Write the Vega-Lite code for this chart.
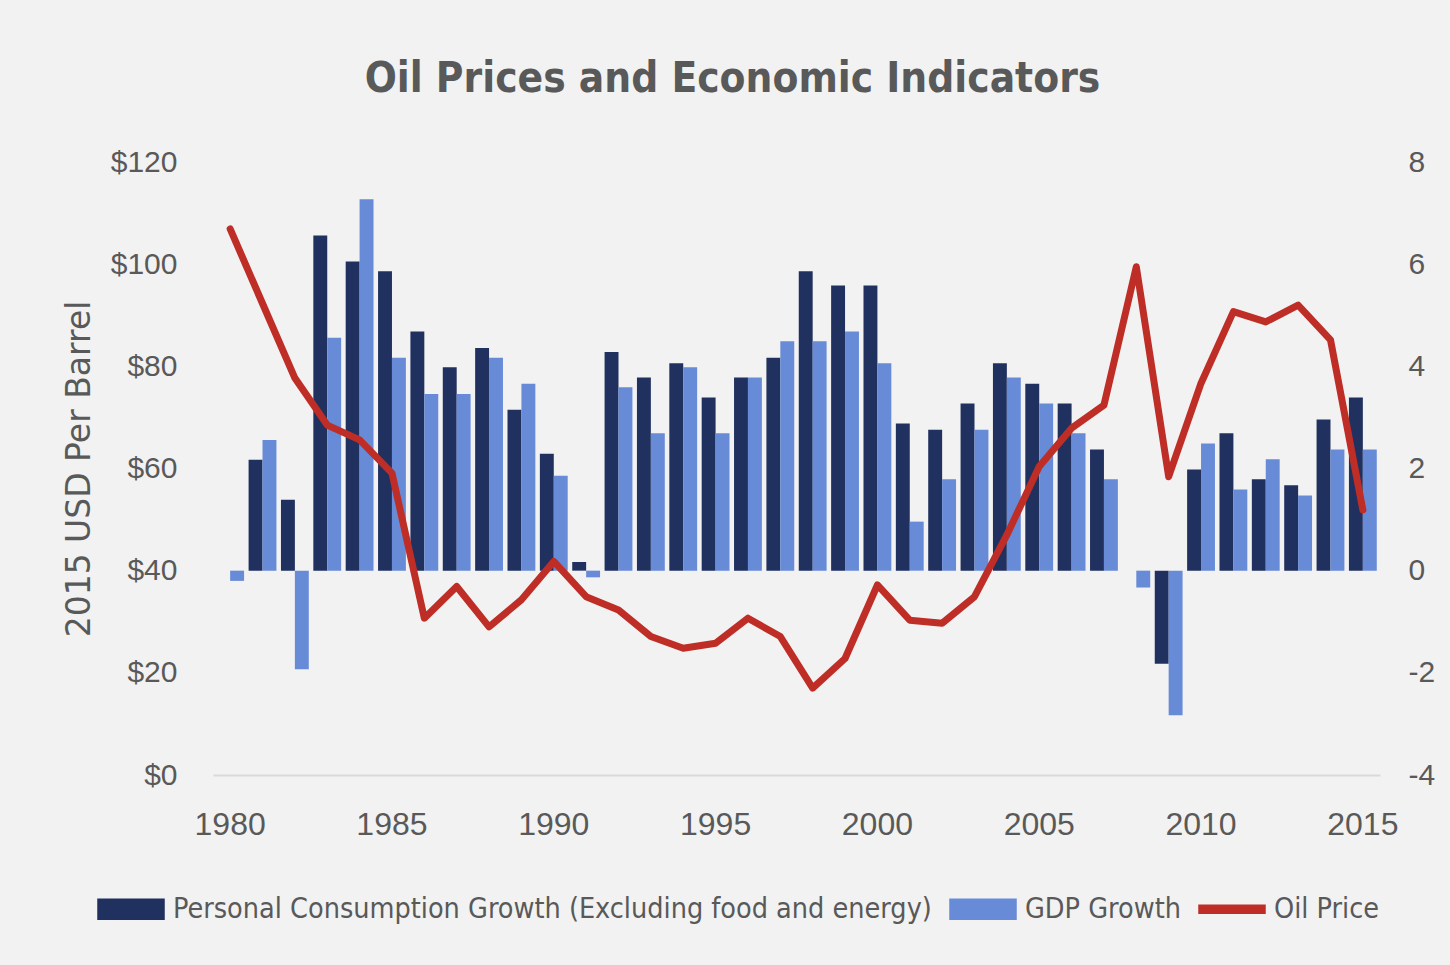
{
  "$schema": "https://vega.github.io/schema/vega-lite/v6.json",
  "autosize": {"type": "none"},
  "width": 1167,
  "height": 613,
  "padding": {"left": 213, "top": 162, "right": 70, "bottom": 190},
  "background": "#f2f2f2",
  "title": {
    "text": "Oil Prices and Economic Indicators",
    "font": "DejaVu Sans Condensed, sans-serif",
    "fontSize": 42,
    "fontWeight": "bold",
    "color": "#595959",
    "anchor": "middle",
    "dx": -64,
    "offset": 46
  },
  "config": {
    "view": {"stroke": null},
    "axis": {
      "labelFont": "Liberation Sans, sans-serif",
      "labelColor": "#595959",
      "labelFontSize": 30,
      "grid": false,
      "ticks": false,
      "titleColor": "#595959"
    }
  },
  "data": {
    "values": [
      {"year": 1980, "pce": null, "gdp": -0.2, "oil": 106.9},
      {"year": 1981, "pce": 2.17, "gdp": 2.56, "oil": 92.3},
      {"year": 1982, "pce": 1.39, "gdp": -1.93, "oil": 77.7},
      {"year": 1983, "pce": 6.56, "gdp": 4.56, "oil": 68.5},
      {"year": 1984, "pce": 6.05, "gdp": 7.27, "oil": 65.6},
      {"year": 1985, "pce": 5.86, "gdp": 4.17, "oil": 59.1},
      {"year": 1986, "pce": 4.68, "gdp": 3.46, "oil": 30.7},
      {"year": 1987, "pce": 3.98, "gdp": 3.46, "oil": 36.9},
      {"year": 1988, "pce": 4.36, "gdp": 4.17, "oil": 29.0},
      {"year": 1989, "pce": 3.15, "gdp": 3.66, "oil": 34.3},
      {"year": 1990, "pce": 2.29, "gdp": 1.86, "oil": 41.8},
      {"year": 1991, "pce": 0.17, "gdp": -0.13, "oil": 34.9},
      {"year": 1992, "pce": 4.28, "gdp": 3.59, "oil": 32.3},
      {"year": 1993, "pce": 3.78, "gdp": 2.69, "oil": 27.1},
      {"year": 1994, "pce": 4.06, "gdp": 3.98, "oil": 24.8},
      {"year": 1995, "pce": 3.39, "gdp": 2.69, "oil": 25.8},
      {"year": 1996, "pce": 3.78, "gdp": 3.78, "oil": 30.7},
      {"year": 1997, "pce": 4.17, "gdp": 4.49, "oil": 27.1},
      {"year": 1998, "pce": 5.86, "gdp": 4.49, "oil": 17.0},
      {"year": 1999, "pce": 5.58, "gdp": 4.68, "oil": 22.8},
      {"year": 2000, "pce": 5.58, "gdp": 4.06, "oil": 37.2},
      {"year": 2001, "pce": 2.88, "gdp": 0.96, "oil": 30.3},
      {"year": 2002, "pce": 2.76, "gdp": 1.79, "oil": 29.7},
      {"year": 2003, "pce": 3.27, "gdp": 2.76, "oil": 34.9},
      {"year": 2004, "pce": 4.06, "gdp": 3.78, "oil": 47.0},
      {"year": 2005, "pce": 3.66, "gdp": 3.27, "oil": 60.4},
      {"year": 2006, "pce": 3.27, "gdp": 2.69, "oil": 67.9},
      {"year": 2007, "pce": 2.37, "gdp": 1.79, "oil": 72.4},
      {"year": 2008, "pce": null, "gdp": -0.33, "oil": 99.5},
      {"year": 2009, "pce": -1.82, "gdp": -2.83, "oil": 58.4},
      {"year": 2010, "pce": 1.98, "gdp": 2.49, "oil": 76.7},
      {"year": 2011, "pce": 2.69, "gdp": 1.59, "oil": 90.7},
      {"year": 2012, "pce": 1.79, "gdp": 2.18, "oil": 88.7},
      {"year": 2013, "pce": 1.67, "gdp": 1.47, "oil": 92.0},
      {"year": 2014, "pce": 2.96, "gdp": 2.37, "oil": 85.2},
      {"year": 2015, "pce": 3.39, "gdp": 2.37, "oil": 51.9}
    ]
  },
  "encoding": {
    "x": {
      "field": "year",
      "type": "ordinal",
      "scale": {"paddingInner": 0.14, "paddingOuter": 0.1},
      "axis": {
        "title": null,
        "values": [1980, 1985, 1990, 1995, 2000, 2005, 2010, 2015],
        "labelAngle": 0,
        "labelFontSize": 32,
        "labelPadding": 34,
        "domain": true,
        "domainColor": "#d9d9d9",
        "domainWidth": 2
      }
    }
  },
  "layer": [
    {
      "transform": [{"fold": ["pce", "gdp"], "as": ["series", "value"]}],
      "mark": {"type": "bar"},
      "encoding": {
        "xOffset": {"field": "series", "type": "nominal", "scale": {"domain": ["pce", "gdp"]}},
        "y": {
          "field": "value",
          "type": "quantitative",
          "scale": {"domain": [-4, 8], "nice": false, "zero": false},
          "axis": {
            "orient": "right",
            "title": null,
            "values": [-4, -2, 0, 2, 4, 6, 8],
            "labelExpr": "datum.value < 0 ? '-' + abs(datum.value) : '' + datum.value",
            "domain": false,
            "labelPadding": 28
          }
        },
        "color": {
          "field": "series",
          "type": "nominal",
          "scale": {"domain": ["pce", "gdp", "oil"], "range": ["#21315f", "#678bd7", "#be2e26"]},
          "legend": {
            "title": null,
            "orient": "none",
            "direction": "horizontal",
            "legendX": -116,
            "legendY": 713,
            "labelFont": "DejaVu Sans Condensed, sans-serif",
            "labelFontSize": 28.5,
            "labelLimit": 2000,
            "labelColor": "#595959",
            "labelOffset": 8,
            "columnPadding": 15,
            "symbolSize": 4356,
            "labelExpr": "datum.value === 'pce' ? 'Personal Consumption Growth (Excluding food and energy)' : datum.value === 'gdp' ? 'GDP Growth' : 'Oil Price'",
            "encode": {
              "symbols": {
                "update": {
                  "shape": {"signal": "datum.value === 'oil' ? 'M-1,-0.12H1V0.12H-1Z' : 'M-1,-0.3H1V0.3H-1Z'"},
                  "fill": {"signal": "scale('color', datum.value)"},
                  "stroke": {"value": "transparent"},
                  "opacity": {"value": 1}
                }
              }
            }
          }
        }
      }
    },
    {
      "transform": [{"fold": ["oil"], "as": ["series", "value"]}],
      "mark": {"type": "line", "strokeWidth": 7, "strokeJoin": "round", "strokeCap": "round"},
      "encoding": {
        "y": {
          "field": "value",
          "type": "quantitative",
          "scale": {"domain": [0, 120], "nice": false},
          "axis": {
            "orient": "left",
            "title": "2015 USD Per Barrel",
            "titleFont": "DejaVu Sans, sans-serif",
            "titleFontSize": 33,
            "titleFontWeight": "normal",
            "titlePadding": 14,
            "values": [0, 20, 40, 60, 80, 100, 120],
            "labelExpr": "'$' + datum.value",
            "domain": false,
            "labelPadding": 36
          }
        },
        "color": {
          "field": "series",
          "type": "nominal",
          "scale": {"domain": ["pce", "gdp", "oil"], "range": ["#21315f", "#678bd7", "#be2e26"]},
          "legend": {
            "title": null,
            "orient": "none",
            "direction": "horizontal",
            "legendX": -116,
            "legendY": 713,
            "labelFont": "DejaVu Sans Condensed, sans-serif",
            "labelFontSize": 28.5,
            "labelLimit": 2000,
            "labelColor": "#595959",
            "labelOffset": 8,
            "columnPadding": 15,
            "symbolSize": 4356,
            "labelExpr": "datum.value === 'pce' ? 'Personal Consumption Growth (Excluding food and energy)' : datum.value === 'gdp' ? 'GDP Growth' : 'Oil Price'",
            "encode": {
              "symbols": {
                "update": {
                  "shape": {"signal": "datum.value === 'oil' ? 'M-1,-0.12H1V0.12H-1Z' : 'M-1,-0.3H1V0.3H-1Z'"},
                  "fill": {"signal": "scale('color', datum.value)"},
                  "stroke": {"value": "transparent"},
                  "opacity": {"value": 1}
                }
              }
            }
          }
        }
      }
    }
  ],
  "resolve": {"scale": {"y": "independent"}}
}
